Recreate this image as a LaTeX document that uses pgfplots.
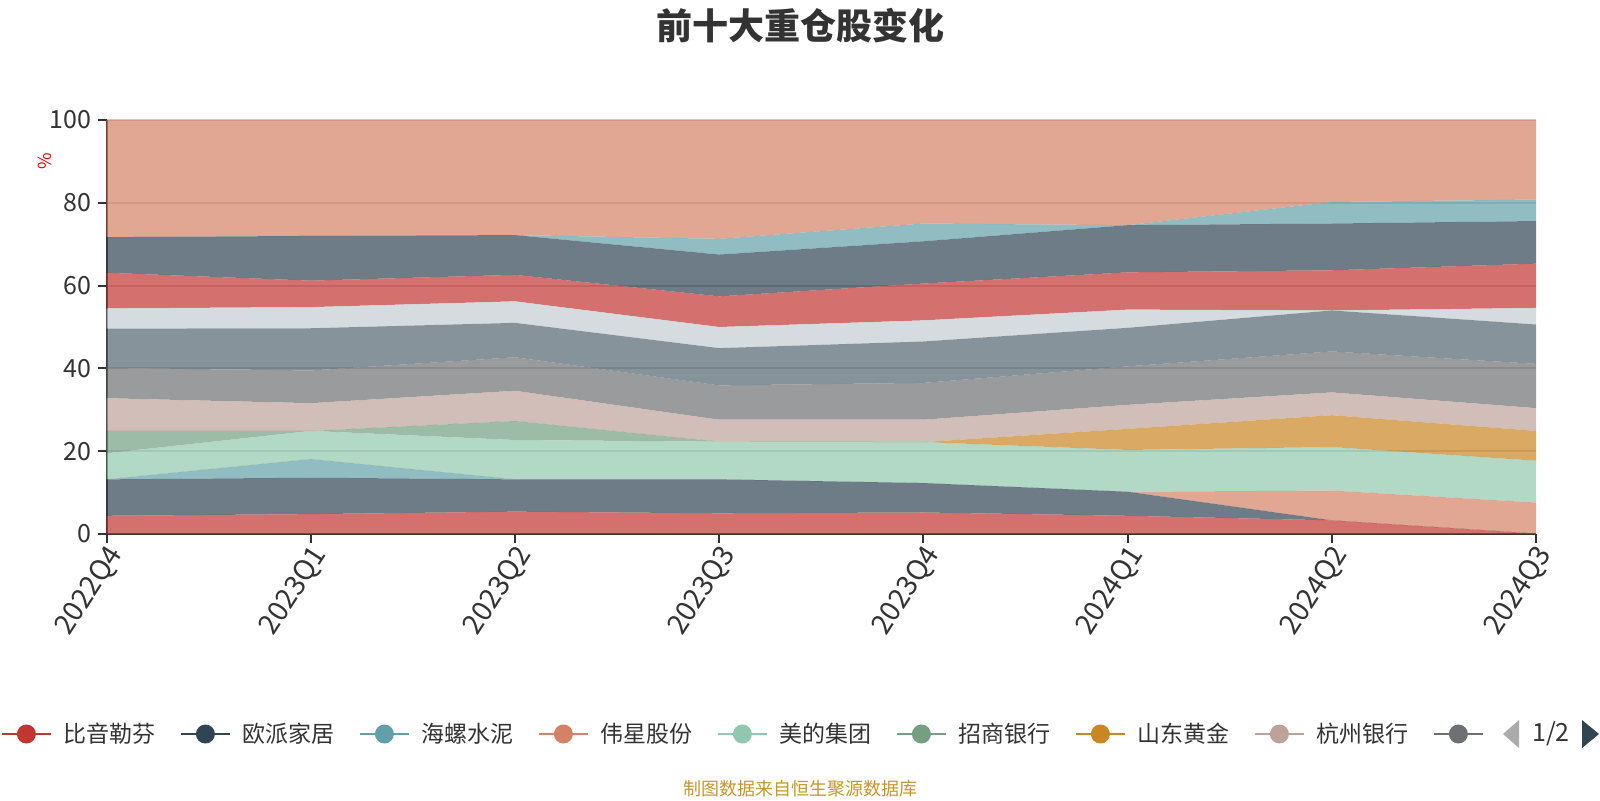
\documentclass[border=0pt]{standalone}
\usepackage{fontspec}
\setmainfont{Noto Sans CJK SC}
\usepackage{pgfplots}
\usepackage{pgfplotstable}
\pgfplotsset{compat=1.18}

\definecolor{c1}{HTML}{C23531}
\definecolor{c2}{HTML}{2F4554}
\definecolor{c3}{HTML}{61A0A8}
\definecolor{c4}{HTML}{D48265}
\definecolor{c5}{HTML}{91C7AE}
\definecolor{c6}{HTML}{749F83}
\definecolor{c7}{HTML}{CA8622}
\definecolor{c8}{HTML}{BDA29A}
\definecolor{c9}{HTML}{6E7074}
\definecolor{c10}{HTML}{546570}
\definecolor{c11}{HTML}{C4CCD3}
\definecolor{txt}{HTML}{333333}
\definecolor{gridc}{HTML}{CCCCCC}
\definecolor{note}{HTML}{C8962A}

% quarterly weights, one column per holding (bottom of the stack first)
\pgfplotstableread{
x s1 s2 s3 s4 s5 s6 s7 s8 s9 s10 s11 s12 s13 s14 s15
0 4.4 8.8 0 0 6.3 5.4 0 7.9 7.3 9.5 4.9 8.6 8.6 0 28.3
1 4.8 8.8 4.5 0 6.8 0 0 6.7 7.9 10.2 5.1 6.4 10.8 0 28.0
2 5.4 7.8 0 0 9.5 4.6 0 7.3 8.1 8.3 5.2 6.4 9.6 0 27.8
3 5.0 8.2 0 0 9.1 0 0 5.3 8.3 9.0 5.1 7.4 10.1 3.8 28.7
4 5.2 7.1 0 0 9.9 0 0 5.4 8.9 10.0 5.1 8.9 10.2 4.3 25.0
5 4.4 5.8 0 0 10.1 0 5.1 5.8 9.3 9.3 4.4 9.0 11.4 0 25.4
6 3.3 0 0 7.2 10.5 0 7.7 5.5 9.9 9.9 0 9.7 11.3 5.2 19.8
7 0.1 0 0 7.5 10.1 0 7.2 5.5 10.7 9.5 4.0 10.7 10.3 5.2 19.2
}\holdings

\pgfplotsset{
  band/.style={fill=#1, fill opacity=0.7, draw=none},
  leg/.style={legend image code/.code={
    \draw[draw=#1, line width=1pt, draw opacity=1] (0pt,0pt) -- (24.5pt,0pt);
    \fill[fill=#1, fill opacity=1] (12.25pt,0pt) circle (4.75pt);}},
}

\begin{document}
\begin{tikzpicture}
\useasboundingbox (0,0) rectangle (800pt,400pt);
\begin{axis}[
    at={(53.35pt,133pt)}, anchor=south west,
    scale only axis, width=714.65pt, height=207pt,
    stack plots=y,
    xmin=0, xmax=7, ymin=0, ymax=100,
    xtick={0,...,7},
    xticklabels={2022Q4,2023Q1,2023Q2,2023Q3,2023Q4,2024Q1,2024Q2,2024Q3},
    ytick={0,20,40,60,80,100},
    axis lines*=left,
    axis line style={draw=txt, line width=1pt},
    tick align=outside,
    major tick length=4.5pt,
    tick style={draw=txt, line width=1pt},
    xtick pos=bottom, ytick pos=left,
    ymajorgrids,
    major grid style={draw=gridc, line width=1pt},
    /pgf/number format/assume math mode=true,
    ticklabel style={text=txt},
    yticklabel style={font=\fontsize{12.5}{14}\selectfont, anchor=east, inner sep=0pt, xshift=-3pt},
    xticklabel style={font=\fontsize{14}{16}\selectfont, rotate=57, anchor=east, inner sep=0pt, yshift=-6pt},
    legend columns=9,
    legend style={at={(-0.0743,-0.4831)}, anchor=west, draw=none, fill=none,
      inner sep=0pt, nodes={inner sep=0pt}, font=\fontsize{11.5}{13}\selectfont,
      text=txt,
      /tikz/every odd column/.append style={column sep=6pt},
      /tikz/every even column/.append style={column sep=12pt}},
]
\addplot[band=c1, leg=c1] table[x=x, y=s1] {\holdings} \closedcycle;
\addlegendentry{比音勒芬}
\addplot[band=c2, leg=c2] table[x=x, y=s2] {\holdings} \closedcycle;
\addlegendentry{欧派家居}
\addplot[band=c3, leg=c3] table[x=x, y=s3] {\holdings} \closedcycle;
\addlegendentry{海螺水泥}
\addplot[band=c4, leg=c4] table[x=x, y=s4] {\holdings} \closedcycle;
\addlegendentry{伟星股份}
\addplot[band=c5, leg=c5] table[x=x, y=s5] {\holdings} \closedcycle;
\addlegendentry{美的集团}
\addplot[band=c6, leg=c6] table[x=x, y=s6] {\holdings} \closedcycle;
\addlegendentry{招商银行}
\addplot[band=c7, leg=c7] table[x=x, y=s7] {\holdings} \closedcycle;
\addlegendentry{山东黄金}
\addplot[band=c8, leg=c8] table[x=x, y=s8] {\holdings} \closedcycle;
\addlegendentry{杭州银行}
\addplot[band=c9, leg=c9] table[x=x, y=s9] {\holdings} \closedcycle;
\addlegendentry{}
\addplot[band=c10, forget plot] table[x=x, y=s10] {\holdings} \closedcycle;
\addplot[band=c11, forget plot] table[x=x, y=s11] {\holdings} \closedcycle;
\addplot[band=c1, forget plot] table[x=x, y=s12] {\holdings} \closedcycle;
\addplot[band=c2, forget plot] table[x=x, y=s13] {\holdings} \closedcycle;
\addplot[band=c3, forget plot] table[x=x, y=s14] {\holdings} \closedcycle;
\addplot[band=c4, forget plot] table[x=x, y=s15] {\holdings} \closedcycle;
\end{axis}
% title, unit, source note, legend pager
\node[font=\fontsize{18}{20}\selectfont\bfseries, text=txt] at (400pt,387.25pt) {前十大重仓股变化};
\node[rotate=90, text=red, font=\fontsize{9}{10}\selectfont] at (22.25pt,319.5pt) {\%};
\node[font=\fontsize{9}{10}\selectfont, text=note] at (400pt,5.5pt) {制图数据来自恒生聚源数据库};
\fill[black!33] (751.5pt,33pt) -- (759.5pt,40pt) -- (759.5pt,26pt) -- cycle;
\node[font=\fontsize{12.5}{14}\selectfont, text=txt] at (775.5pt,33pt) {1/2};
\fill[c2] (799.5pt,33pt) -- (791pt,40pt) -- (791pt,26pt) -- cycle;
\end{tikzpicture}
\end{document}
